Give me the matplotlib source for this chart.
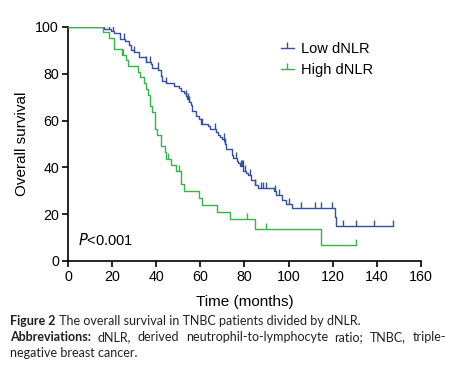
import numpy as np
import matplotlib.pyplot as plt
from matplotlib.lines import Line2D

plt.rcParams['font.family'] = ['Liberation Sans', 'DejaVu Sans']

# Kaplan-Meier steps (months, % surviving)
times_low = [0, 15.9, 19.7, 20.9, 23.6, 25.7, 27.5, 28.4, 29.9, 32.4, 35.4, 37.4, 38.3, 41.0,
             42.0, 42.6, 44.6, 48.0, 50.3, 51.4, 52.4, 53.3, 53.9, 55.0, 55.8, 56.4, 57.8,
             59.2, 60.5, 63.5, 64.4, 67.0, 68.0, 68.9, 69.8, 70.9, 71.3, 71.8, 74.5, 74.8,
             76.8, 77.2, 77.8, 79.3, 80.6, 81.5, 82.8, 84.8, 86.1, 93.4, 94.5, 97.0, 98.8,
             101.5, 121.0, 121.5]
surv_low = [100, 99.1, 98.3, 97.4, 95.0, 93.9, 92.4, 90.3, 89.4, 87.2, 85.0, 84.2, 82.5, 81.8,
            79.2, 77.1, 76.1, 75.0, 73.9, 72.8, 71.6, 70.3, 69.4, 67.9, 66.5, 63.9, 61.8,
            60.7, 58.7, 57.8, 56.5, 55.0, 54.0, 52.8, 52.3, 51.1, 50.0, 47.9, 45.1, 44.0,
            42.9, 41.9, 40.7, 38.6, 37.6, 36.6, 34.7, 32.6, 31.2, 30.0, 28.3, 26.2, 24.4,
            22.6, 18.8, 15.0]
end_low = 147.5
censor_low = [16.3, 18.4, 20.4, 25.4, 29.9, 35.4, 37.1, 40.8, 44.6, 53.5, 54.2, 55.0, 60.9,
              66.8, 70.5, 71.3, 76.2, 78.2, 78.7, 79.1, 80.2, 82.3, 84.8, 87.5, 88.6, 89.8,
              93.7, 95.6, 100.2, 105.8, 112.1, 114.7, 119.7, 124.7, 130.6, 138.7, 147.5]

times_high = [0, 15.9, 18.4, 20.9, 24.5, 26.3, 27.2, 31.7, 32.8, 34.3, 35.4, 36.1, 37.2, 38.1,
              39.5, 40.3, 42.2, 44.0, 44.4, 46.7, 48.8, 51.2, 52.6, 59.4, 60.7, 67.5, 73.4,
              84.8, 114.7]
surv_high = [100, 97.9, 95.3, 90.6, 88.0, 85.9, 83.3, 80.8, 78.6, 76.0, 73.6, 70.9, 66.2, 63.6,
             56.4, 54.0, 49.3, 46.4, 43.8, 41.2, 38.6, 32.9, 30.1, 27.0, 23.9, 20.9, 18.0,
             13.7, 6.8]
end_high = 130.6
censor_high = [24.8, 45.3, 50.3, 81.1, 89.8, 130.6]

blue = "#34509f"
green = "#36b34a"

fig = plt.figure(figsize=(4.57, 3.75), dpi=100)
ax = fig.add_axes([0.1488, 0.304, 0.7724, 0.624])


def km(ax, t, s, t_end, cens, color):
    t = np.array(t + [t_end])
    s = np.array(s + [s[-1]])
    ax.step(t, s, where="post", color=color, lw=1.0, zorder=3)
    idx = np.searchsorted(t[:-1], cens, side="right") - 1
    ax.plot(cens, s[idx], ls="none", marker=2, ms=4.2, mew=1.0, color=color, zorder=3)


km(ax, times_low, surv_low, end_low, censor_low, blue)
km(ax, times_high, surv_high, end_high, censor_high, green)

ax.set_xlim(0, 160)
ax.set_ylim(0, 100)
ax.set_xticks(range(0, 161, 20))
ax.set_yticks(range(0, 101, 20))
for sp in ["top", "right"]:
    ax.spines[sp].set_visible(False)
for sp in ["left", "bottom"]:
    ax.spines[sp].set_linewidth(1.2)
ax.tick_params(width=1.2, length=4, labelsize=10.3, pad=2.5)
ax.set_xlabel("Time (months)", fontsize=11, va="center")
ax.set_ylabel("Overall survival", fontsize=11, va="center")
ax.xaxis.set_label_coords(0.5, -0.176)
ax.yaxis.set_label_coords(-0.131, 0.5)

ax.text(0.027, 0.07, "$P$<0.001", transform=ax.transAxes, fontsize=10.5, va="baseline")

handles = [Line2D([], [], color=blue, lw=1.0, marker=2, ms=4.2, mew=1.0),
           Line2D([], [], color=green, lw=1.0, marker=2, ms=4.2, mew=1.0)]
ax.legend(handles, ["Low dNLR", "High dNLR"], loc="upper left", bbox_to_anchor=(0.603, 0.935),
          frameon=False, fontsize=10.5, handlelength=0.9, handletextpad=0.45,
          labelspacing=0.48, borderpad=0, borderaxespad=0)

# caption below the chart
cap = dict(family=["Lato", "DejaVu Sans"], fontsize=9, color="#231f20")
x0 = 10 / 457
t1 = fig.text(x0, 1 - 325 / 375, "Figure 2", fontweight="bold", **cap)
ax.annotate(" The overall survival in TNBC patients divided by dNLR.", xy=(1, 0),
            xycoords=t1, va="bottom", annotation_clip=False, **cap)

# second line is justified between the margins
words = ["Abbreviations:", "dNLR,", "derived", "neutrophil-to-lymphocyte", "ratio;",
         "TNBC,", "triple-"]
y2 = 1 - 341 / 375
r = fig.canvas.get_renderer()
objs = []
for i, w in enumerate(words):
    objs.append(fig.text(0, y2, w, fontweight="bold" if i == 0 else "normal", **cap))
widths = [o.get_window_extent(r).width / fig.bbox.width for o in objs]
x1 = 446 / 457
gap = (x1 - x0 - sum(widths)) / (len(words) - 1)
x = x0
for o, w in zip(objs, widths):
    o.set_x(x)
    x += w + gap

fig.text(x0, 1 - 357 / 375, "negative breast cancer.", **cap)

fig.savefig("out.png", dpi=100)
